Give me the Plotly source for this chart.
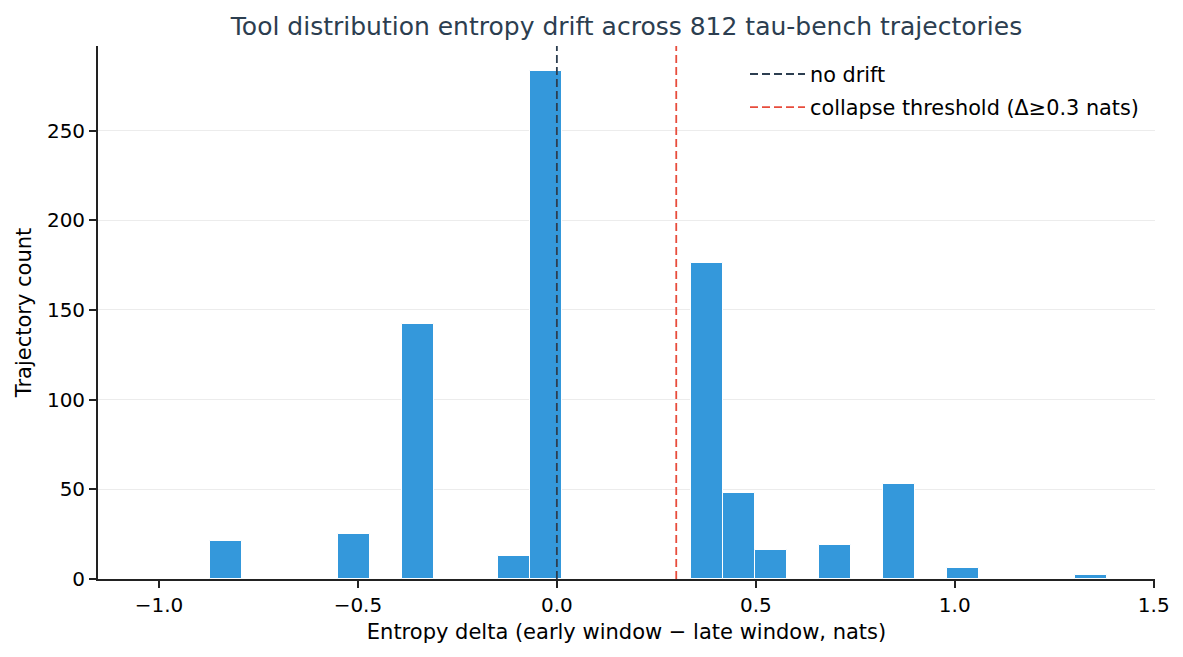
import plotly.graph_objects as go

# Histogram data (30 equal-width bins)
bin_start = -1.0325
bin_width = 0.0805
counts = [0, 0, 21, 0, 0, 0, 25, 0, 142, 0,
          0, 13, 283, 0, 0, 0, 0, 176, 48, 16,
          0, 19, 0, 53, 0, 6, 0, 0, 0, 2]
no_drift_x = 0.0
threshold_x = 0.3
x_ticks = [-1.0, -0.5, 0.0, 0.5, 1.0, 1.5]
y_ticks = [0, 50, 100, 150, 200, 250]

centers = [bin_start + bin_width * (i + 0.5) for i in range(len(counts))]
y_top = max(counts) * 1.05
x_lo = bin_start
x_hi = bin_start + bin_width * len(counts)
x_pad = (x_hi - x_lo) * 0.05

FONT = "DejaVu Sans"
W, H = 1175, 649   # page body has an 8px offset
DRIFT_C = "#2c3e50"
THR_C = "#e74c3c"
DASH = "8px,4px"

fig = go.Figure()
fig.add_trace(go.Bar(
    x=centers, y=counts, width=bin_width,
    marker=dict(color="#3498db", line=dict(color="white", width=1)),
    showlegend=False, hoverinfo="x+y",
))

for xv, col in [(no_drift_x, DRIFT_C), (threshold_x, THR_C)]:
    fig.add_shape(type="line", x0=xv, x1=xv, y0=0, y1=1,
                  xref="x", yref="y domain",
                  line=dict(color=col, width=1.8, dash=DASH))

# legend entries
fig.add_trace(go.Scatter(x=[None], y=[None], mode="lines", name="no drift",
                         line=dict(color=DRIFT_C, width=1.8, dash=DASH), legendgroup="a"))
fig.add_trace(go.Scatter(x=[None], y=[None], mode="lines",
                         name="collapse threshold (Δ≥0.3 nats)",
                         line=dict(color=THR_C, width=1.8, dash=DASH), legendgroup="b"))

fig.update_layout(
    width=W, height=H,
    margin=dict(l=90, r=28, t=38, b=78, autoexpand=False),
    paper_bgcolor="white", plot_bgcolor="white",
    font=dict(family=FONT, size=20, color="#000000"),
    title=dict(text="Tool distribution entropy drift across 812 tau-bench trajectories",
               x=(90 + (W - 28)) / 2 / W, xanchor="center", y=1 - 18 / H, yanchor="middle",
               font=dict(family=FONT, size=25, color="#2c3e50")),
    bargap=0,
    legend=dict(x=0.9896, xanchor="right", y=0.985, yanchor="top",
                bgcolor="rgba(255,255,255,0)", font=dict(size=20.8),
                tracegroupgap=3, itemwidth=55),
    xaxis=dict(range=[x_lo - x_pad, x_hi + x_pad], tickvals=x_ticks,
               tickformat=".1f", showgrid=False, zeroline=False, automargin=False,
               showline=True, linecolor="#222222", linewidth=1.8,
               ticks="outside", ticklen=7, tickwidth=1.8, tickcolor="#222222",
               title=dict(text="Entropy delta (early window − late window, nats)",
                          standoff=8, font=dict(size=21))),
    yaxis=dict(range=[0, y_top], tickvals=y_ticks, showgrid=True, automargin=False,
               gridcolor="#ececec", gridwidth=1.2, zeroline=False,
               showline=True, linecolor="#222222", linewidth=1.8,
               ticks="outside", ticklen=7, tickwidth=1.8, tickcolor="#222222",
               title=dict(text="Trajectory count", standoff=10, font=dict(size=21))),
)

fig.write_html("out.html")
